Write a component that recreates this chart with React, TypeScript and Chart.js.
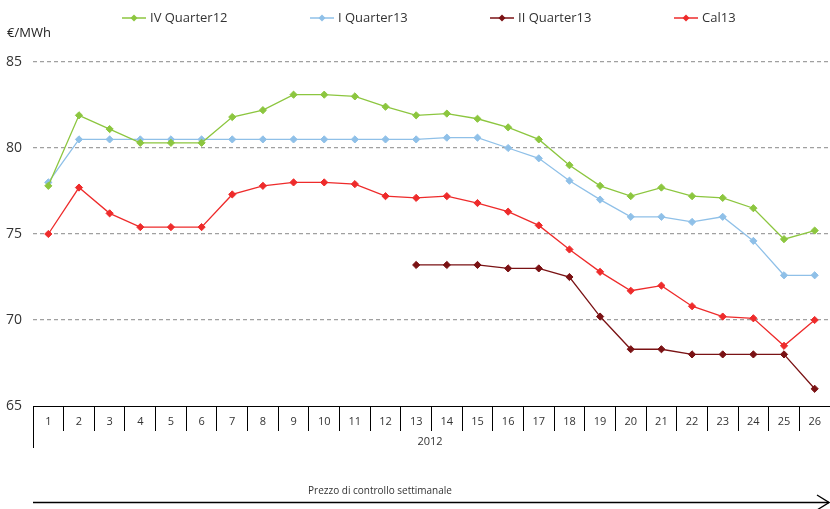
import React, { useEffect, useRef } from "react";
import { Chart, registerables } from "chart.js";

Chart.register(...registerables);

const weeks = ["1","2","3","4","5","6","7","8","9","10","11","12","13","14","15","16","17","18","19","20","21","22","23","24","25","26"];
const yearLabel = "2012";
const xTitle = "Prezzo di controllo settimanale";
const yUnit = "€/MWh";

const q4_12 = [77.8, 81.9, 81.1, 80.3, 80.3, 80.3, 81.8, 82.2, 83.1, 83.1, 83.0, 82.4, 81.9, 82.0, 81.7, 81.2, 80.5, 79.0, 77.8, 77.2, 77.7, 77.2, 77.1, 76.5, 74.7, 75.2];
const q1_13 = [78.0, 80.5, 80.5, 80.5, 80.5, 80.5, 80.5, 80.5, 80.5, 80.5, 80.5, 80.5, 80.5, 80.6, 80.6, 80.0, 79.4, 78.1, 77.0, 76.0, 76.0, 75.7, 76.0, 74.6, 72.6, 72.6];
const q2_13 = [null, null, null, null, null, null, null, null, null, null, null, null, 73.2, 73.2, 73.2, 73.0, 73.0, 72.5, 70.2, 68.3, 68.3, 68.0, 68.0, 68.0, 68.0, 66.0];
const cal13 = [75.0, 77.7, 76.2, 75.4, 75.4, 75.4, 77.3, 77.8, 78.0, 78.0, 77.9, 77.2, 77.1, 77.2, 76.8, 76.3, 75.5, 74.1, 72.8, 71.7, 72.0, 70.8, 70.2, 70.1, 68.5, 70.0];

const seriesNames = ["IV Quarter12", "I Quarter13", "II Quarter13", "Cal13"];
const seriesColors = ["#8cc63f", "#8fc0e8", "#7a1214", "#ee2b2b"];
const legendX = [122, 310, 490, 674];

const FONT = "'Open Sans', 'DejaVu Sans', sans-serif";

const overlay = {
  id: "overlay",
  afterDraw(chart: any) {
    const ctx = chart.ctx;
    const area = chart.chartArea;
    ctx.save();
    // legend
    chart.data.datasets.forEach((ds: any, i: number) => {
      const x = legendX[i];
      const y = 18;
      ctx.strokeStyle = ds.borderColor;
      ctx.lineWidth = 1.5;
      ctx.beginPath();
      ctx.moveTo(x, y);
      ctx.lineTo(x + 24, y);
      ctx.stroke();
      ctx.fillStyle = ds.borderColor;
      ctx.beginPath();
      ctx.moveTo(x + 12, y - 3.5);
      ctx.lineTo(x + 15.5, y);
      ctx.lineTo(x + 12, y + 3.5);
      ctx.lineTo(x + 8.5, y);
      ctx.closePath();
      ctx.fill();
      ctx.fillStyle = "#333";
      ctx.font = "13px " + FONT;
      ctx.textAlign = "left";
      ctx.textBaseline = "middle";
      ctx.fillText(ds.label, x + 28, y);
    });
    // unit
    ctx.fillStyle = "#222";
    ctx.font = "13px " + FONT;
    ctx.textAlign = "left";
    ctx.textBaseline = "middle";
    ctx.fillText(yUnit, 7, 33);
    // left extension of category box
    ctx.strokeStyle = "#000";
    ctx.lineWidth = 1;
    ctx.beginPath();
    ctx.moveTo(area.left + 0.5, area.bottom);
    ctx.lineTo(area.left + 0.5, 448);
    ctx.stroke();
    // year label
    ctx.fillStyle = "#333";
    ctx.font = "11px " + FONT;
    ctx.textAlign = "center";
    ctx.fillText(yearLabel, 430, 442);
    // arrow
    ctx.strokeStyle = "#000";
    ctx.lineWidth = 1.3;
    ctx.beginPath();
    ctx.moveTo(area.left, 502.5);
    ctx.lineTo(829, 502.5);
    ctx.stroke();
    ctx.beginPath();
    ctx.moveTo(817, 495);
    ctx.lineTo(829, 502.5);
    ctx.lineTo(817, 510);
    ctx.stroke();
    ctx.fillStyle = "#333";
    ctx.font = "10px " + FONT;
    ctx.textAlign = "center";
    ctx.fillText(xTitle, 380, 491);
    ctx.restore();
  },
};

export default function App() {
  const ref = useRef<HTMLCanvasElement | null>(null);
  useEffect(() => {
    if (!ref.current) return;
    const data = [q4_12, q1_13, q2_13, cal13];
    const chart = new Chart(ref.current, {
      type: "line",
      data: {
        labels: weeks,
        datasets: data.map((d, i) => ({
          label: seriesNames[i],
          data: d as any,
          borderColor: seriesColors[i],
          backgroundColor: seriesColors[i],
          pointBackgroundColor: seriesColors[i],
          pointBorderColor: seriesColors[i],
          pointStyle: "rectRot",
          pointRadius: 3.6,
          pointBorderWidth: 1,
          borderWidth: 1.3,
          tension: 0,
          spanGaps: false,
          clip: false,
        })),
      },
      options: {
        responsive: false,
        animation: false,
        events: [],
        layout: { autoPadding: false, padding: { top: 62, right: -1, left: 0, bottom: 0 } },
        plugins: { legend: { display: false }, tooltip: { enabled: false }, title: { display: false } },
        scales: {
          x: {
            type: "category",
            offset: true,
            border: { display: true, color: "#000", width: 1 },
            grid: {
              offset: true,
              drawOnChartArea: false,
              drawTicks: true,
              tickLength: 25,
              color: "#000",
              lineWidth: 1,
            },
            ticks: {
              color: "#333",
              font: { family: FONT, size: 11 },
              padding: -16,
              maxRotation: 0,
              autoSkip: false,
            },
            afterFit: (s: any) => {
              s.height = 103;
              s.paddingLeft = 0;
              s.paddingRight = 0;
            },
          },
          y: {
            min: 65,
            max: 85,
            border: { display: false, dash: [4, 3] },
            grid: {
              drawTicks: false,
              color: (c: any) => (c.tick && c.tick.value === 65 ? "rgba(0,0,0,0)" : "#a0a0a0"),
              lineWidth: 1.2,
            },
            ticks: {
              stepSize: 5,
              padding: 11,
              color: "#333",
              font: { family: FONT, size: 14 },
            },
            afterFit: (s: any) => { s.width = 33; },
          },
        },
      } as any,
      plugins: [overlay],
    });
    return () => chart.destroy();
  }, []);
  return (
    <div style={{ position: "fixed", left: 0, top: 0, width: 830, height: 509, background: "#fff" }}>
      <canvas ref={ref} width={830} height={509} />
    </div>
  );
}
